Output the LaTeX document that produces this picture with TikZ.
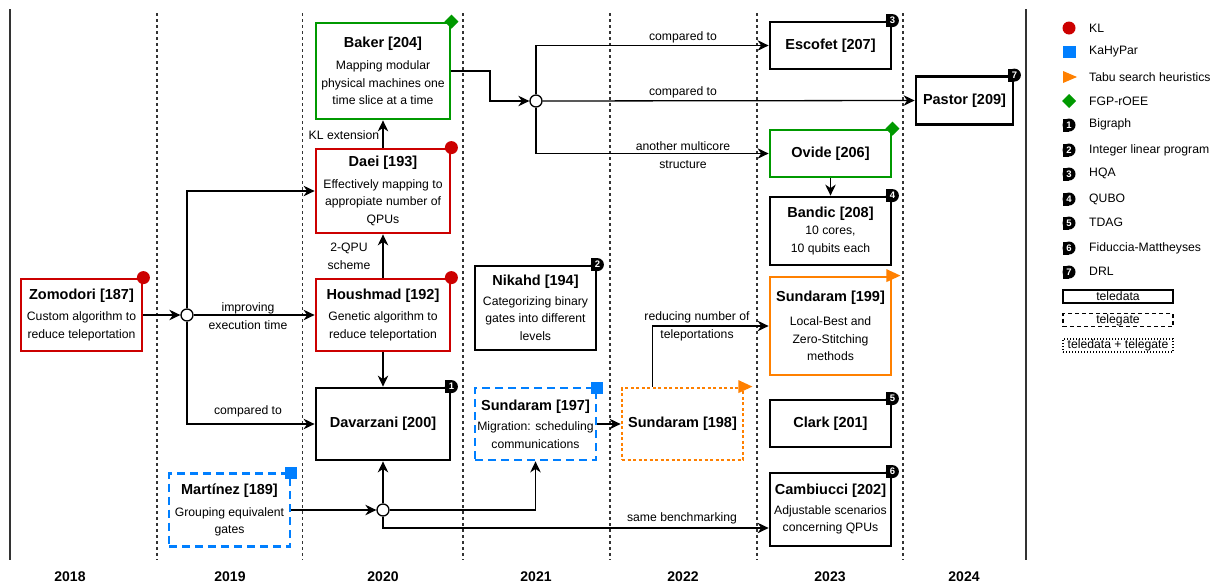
\documentclass[tikz,border=0pt]{standalone}
\usepackage{fontspec}
\setmainfont{Liberation Sans}
\usetikzlibrary{arrows.meta,calc}
\definecolor{klred}{HTML}{CC0000}
\definecolor{kblue}{HTML}{007FFF}
\definecolor{torange}{HTML}{FF8000}
\definecolor{fgreen}{HTML}{009900}
\definecolor{gridc}{HTML}{333333}
\newcommand{\boxtitle}[1]{{\fontsize{14.5}{17.5}\selectfont\bfseries #1}}
\newcommand{\badgemark}[3]{\begin{scope}[shift={(#1)}]\fill (-6.5,-6.5) rectangle (0,6.5); \fill (0,0) circle[radius=6.5pt]; \node[text=white,font=\fontsize{9.5}{9.5}\selectfont\bfseries,inner sep=0pt] (#3) at (0,0) {#2};\end{scope}}
\newcommand{\diamondmark}[1]{\begin{scope}[shift={(#1)}]\fill[fgreen] (0,-7) -- (7,0) -- (0,7) -- (-7,0) -- cycle;\end{scope}}
\newcommand{\squaremark}[1]{\begin{scope}[shift={(#1)}]\fill[kblue] (-6,-5) rectangle (6,7);\end{scope}}
\newcommand{\trianglemark}[1]{\begin{scope}[shift={(#1)}]\fill[torange] (-6,-6.5) -- (8,0) -- (-6,6.5) -- cycle;\end{scope}}
\newcommand{\dotmark}[1]{\fill[klred] (#1) circle[radius=6.5pt];}
\tikzset{
  box/.style={draw, line width=2.8pt, align=center, font=\fontsize{12.2}{17.5}\selectfont, inner sep=0pt},
  redbox/.style={box, draw=klred},
  greenbox/.style={box, draw=fgreen},
  bluebox/.style={box, draw=kblue, dash pattern=on 8pt off 5pt},
  orangebox/.style={box, draw=torange, dash pattern=on 3pt off 2.5pt},
  arr/.style={-{Stealth[length=11pt,width=10.5pt,inset=3.5pt]}, line width=1.3pt},
  junction/.style={circle, draw, fill=white, line width=1.3pt, minimum size=12pt, inner sep=0pt},
  lbl/.style={font=\fontsize{12.2}{18}\selectfont, align=center, inner sep=0pt},
  legtxt/.style={font=\fontsize{12.2}{14}\selectfont, anchor=west, inner sep=0pt},
  legbox/.style={draw, line width=1.2pt, minimum width=110pt, minimum height=13pt, inner sep=0pt, font=\fontsize{12.2}{12}\selectfont},
  yr/.style={font=\fontsize{14}{14}\selectfont\bfseries, inner sep=0pt},
  gridline/.style={dash pattern=on 3pt off 3pt, line width=1.3pt, gridc},
  frameline/.style={line width=1.5pt, gridc},
}
\begin{document}
\begin{tikzpicture}[x=1pt,y=-1pt]
\useasboundingbox (0,0) rectangle (1218,587);
% grid
\draw[frameline] (10,9) -- (10,560);
\draw[frameline] (1026,9) -- (1026,560);
\foreach \gx in {157,302.5,463,610,757,903} {\draw[gridline] (\gx,13) -- (\gx,560);}
% years
\node[yr] (y18) at (70,577) {2018};
\node[yr] (y19) at (230,577) {2019};
\node[yr] (y20) at (383,577) {2020};
\node[yr] (y21) at (536,577) {2021};
\node[yr] (y22) at (683,577) {2022};
\node[yr] (y23) at (830,577) {2023};
\node[yr] (y24) at (964,577) {2024};
% boxes
\node[greenbox, minimum width=134pt, minimum height=96pt] (baker) at (383,71) {\boxtitle{Baker [204]}\\[5pt]Mapping modular\\physical machines one\\time slice at a time};
\node[redbox, minimum width=134pt, minimum height=84pt] (daei) at (383,191) {\boxtitle{Daei [193]}\\[4pt]Effectively mapping to\\appropiate number of\\QPUs};
\node[redbox, minimum width=134pt, minimum height=72pt] (housh) at (383,315) {\boxtitle{Houshmad [192]}\\[4pt]Genetic algorithm to\\reduce teleportation};
\node[redbox, minimum width=121pt, minimum height=72pt] (zomo) at (81.5,315) {\boxtitle{Zomodori [187]}\\[4pt]Custom algorithm to\\reduce teleportation};
\node[box, minimum width=134pt, minimum height=72pt] (davar) at (383,424) {\boxtitle{Davarzani [200]}};
\node[bluebox, minimum width=121pt, minimum height=73pt] (mart) at (229.5,510) {\boxtitle{Martínez [189]}\\[4pt]Grouping equivalent\\gates};
\node[box, minimum width=121pt, minimum height=84pt] (nika) at (535.5,308) {\boxtitle{Nikahd [194]}\\[2pt]Categorizing binary\\gates into different\\levels};
\node[bluebox, minimum width=121pt, minimum height=72pt] (s197) at (535.5,424) {\boxtitle{Sundaram [197]}\\[3pt]Migration: scheduling\\communications};
\node[orangebox, minimum width=121pt, minimum height=72pt] (s198) at (682.5,424) {\boxtitle{Sundaram [198]}};
\node[box, minimum width=121pt, minimum height=47pt] (esco) at (830.5,45.5) {\boxtitle{Escofet [207]}};
\node[greenbox, minimum width=121pt, minimum height=47pt] (ovide) at (830.5,153.5) {\boxtitle{Ovide [206]}};
\node[box, minimum width=121pt, minimum height=68pt] (bandic) at (830.5,231) {\boxtitle{Bandic [208]}\\[0pt]10 cores,\\10 qubits each};
\node[box, draw=torange, minimum width=121pt, minimum height=98pt] (s199) at (830.5,326) {\boxtitle{Sundaram [199]}\\[7pt]Local-Best and\\Zero-Stitching\\methods};
\node[box, minimum width=121pt, minimum height=47pt] (clark) at (830.5,423.5) {\boxtitle{Clark [201]}};
\node[box, minimum width=121pt, minimum height=73pt] (cambi) at (830.5,509.5) {\boxtitle{Cambiucci [202]}\\[2pt]Adjustable scenarios\\concerning QPUs};
\node[box, minimum width=97pt, minimum height=48pt] (pastor) at (964.5,100.5) {\boxtitle{Pastor [209]}};
% junctions
\node[junction] (c1) at (187,315) {};
\node[junction] (c2) at (536,101) {};
\node[junction] (c3) at (383,510) {};
\coordinate (b1) at (490,71);
% connectors
\draw[arr] (zomo.east) -- (c1);
\draw[arr] (c1) -- (housh.west);
\draw[arr] (c1.north) |- (daei.west);
\draw[arr] (c1.south) |- (davar.west);
\draw[arr] (housh.north) -- (daei.south);
\draw[arr] (daei.north) -- (baker.south);
\draw[arr] (housh.south) -- (davar.north);
\draw[arr] (baker.east) -- (b1) |- (c2);
\draw[arr] (c2.north) |- (esco.west);
\draw[arr] (c2) -- (pastor.west);
\draw[arr] (c2.south) |- (ovide.west);
\draw[arr] (ovide.south) -- (bandic.north);
\draw[arr] (mart.east) -- (c3);
\draw[arr] (c3.north) -- (davar.south);
\draw[arr] (c3.east) -| (s197.south);
\draw[arr] (c3.south) |- ([yshift=-18.5pt]cambi.west);
\draw[arr] (s197.east) -- (s198.west);
\draw[arr] ([xshift=-30pt]s198.north) |- (s199.west);
% connector labels
\node[lbl] (l1) at (248,316) {improving\\execution time};
\node[lbl] (l2) at (248,411) {compared to};
\node[lbl] (l3) at (349,256) {2-QPU\\scheme};
\node[lbl] (l4) at (344,135) {KL extension};
\node[lbl] (l5) at (683,37) {compared to};
\node[lbl] (l6) at (683,92) {compared to};
\node[lbl] (l7) at (683,155.5) {another multicore\\structure};
\node[lbl] (l8) at (697,326) {reducing number of\\teleportations};
\node[lbl] (l9) at (682,518) {same benchmarking};
% markers on boxes
\diamondmark{baker.north east}
\dotmark{daei.north east}
\dotmark{housh.north east}
\dotmark{zomo.north east}
\squaremark{mart.north east}
\squaremark{s197.north east}
\trianglemark{s198.north east}
\trianglemark{s199.north east}
\diamondmark{ovide.north east}
\badgemark{davar.north east}{1}{bd1}
\badgemark{nika.north east}{2}{bd2}
\badgemark{esco.north east}{3}{bd3}
\badgemark{bandic.north east}{4}{bd4}
\badgemark{clark.north east}{5}{bd5}
\badgemark{cambi.north east}{6}{bd6}
\badgemark{pastor.north east}{7}{bd7}
% legend
\fill[klred] (1069,28) circle[radius=6.5pt];
\node[legtxt] (lg1) at (1089,28) {KL};
\fill[kblue] (1063,46) rectangle (1076,58);
\node[legtxt] (lg2) at (1089,52) {KaHyPar};
\fill[torange] (1063,71) -- (1077,77) -- (1063,83) -- cycle;
\node[legtxt] (lg3) at (1089,77) {Tabu search heuristics};
\fill[fgreen] (1069,94) -- (1076,101) -- (1069,108) -- (1062,101) -- cycle;
\node[legtxt] (lg4) at (1089,101) {FGP-rOEE};
\badgemark{1069,125}{1}{lb1}
\node[legtxt] (lg5) at (1089,124) {Bigraph};
\badgemark{1069,150}{2}{lb2}
\node[legtxt] (lg6) at (1089,150) {Integer linear program};
\badgemark{1069,174}{3}{lb3}
\node[legtxt] (lg7) at (1089,173) {HQA};
\badgemark{1069,199}{4}{lb4}
\node[legtxt] (lg8) at (1089,199) {QUBO};
\badgemark{1069,223}{5}{lb5}
\node[legtxt] (lg9) at (1089,222) {TDAG};
\badgemark{1069,248}{6}{lb6}
\node[legtxt] (lg10) at (1089,248) {Fiduccia-Mattheyses};
\badgemark{1069,272}{7}{lb7}
\node[legtxt] (lg11) at (1089,271) {DRL};
\node[legbox] (lt1) at (1118,296.5) {teledata};
\node[legbox, line width=1.1pt, dash pattern=on 4pt off 3pt] (lt2) at (1118,320) {telegate};
\node[legbox, line width=1.1pt, dash pattern=on 1pt off 2pt] (lt3) at (1118,345.5) {teledata + telegate};
\end{tikzpicture}
\end{document}
